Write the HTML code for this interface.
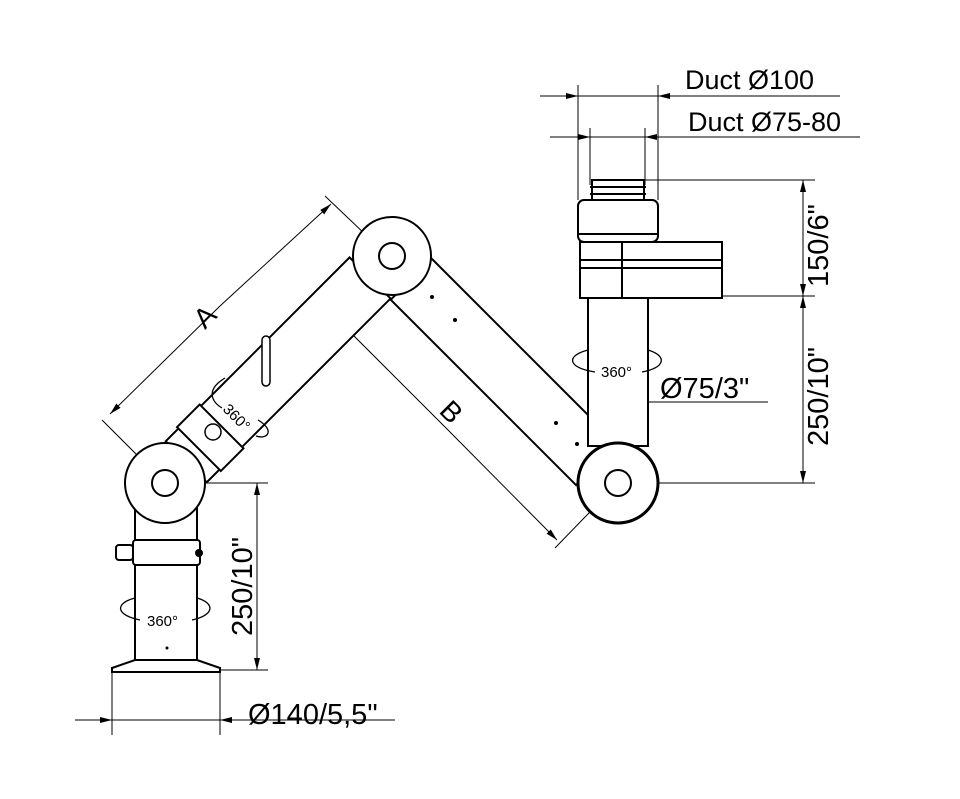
<!DOCTYPE html>
<html><head><meta charset="utf-8"><style>
html,body{margin:0;padding:0;background:#fff}
svg{display:block}
text{font-family:"Liberation Sans",Arial,sans-serif;fill:#000}
</style></head><body>
<svg width="960" height="799" viewBox="0 0 960 799" xmlns="http://www.w3.org/2000/svg">
<defs>
<marker id="ar" viewBox="0 0 12 6" refX="12" refY="3" markerWidth="12" markerHeight="6" orient="auto-start-reverse" markerUnits="userSpaceOnUse"><path d="M0,0 L12,3 L0,6z" fill="#000"/></marker>
</defs>
<g stroke="#000" fill="none" stroke-width="1">
<line x1="540" y1="96" x2="840" y2="96"/>
<line x1="550" y1="137" x2="860" y2="137"/>
<line x1="578" y1="85" x2="578" y2="200"/>
<line x1="658" y1="85" x2="658" y2="200"/>
<line x1="590" y1="128" x2="590" y2="185"/>
<line x1="645" y1="128" x2="645" y2="185"/>
<path d="M548,96 L578,96" marker-end="url(#ar)"/>
<path d="M690,96 L658,96" marker-end="url(#ar)"/>
<path d="M560,137 L590,137" marker-end="url(#ar)"/>
<path d="M675,137 L645,137" marker-end="url(#ar)"/>
<line x1="645" y1="180" x2="815" y2="180"/>
<line x1="722" y1="296" x2="815" y2="296"/>
<line x1="618" y1="483" x2="815" y2="483"/>
<path d="M803,238 L803,180" marker-end="url(#ar)"/>
<path d="M803,238 L803,296" marker-end="url(#ar)"/>
<path d="M803,390 L803,296" marker-end="url(#ar)"/>
<path d="M803,390 L803,483" marker-end="url(#ar)"/>
<line x1="588" y1="402" x2="768" y2="402"/>
<path d="M620,402 L588,402" marker-end="url(#ar)"/>
<path d="M618,402 L648,402" marker-end="url(#ar)"/>
<line x1="165" y1="483" x2="268" y2="483"/>
<line x1="197" y1="670" x2="268" y2="670"/>
<path d="M257,575 L257,483" marker-end="url(#ar)"/>
<path d="M257,575 L257,670" marker-end="url(#ar)"/>
<line x1="75" y1="720" x2="395" y2="720"/>
<line x1="112" y1="672" x2="112" y2="735"/>
<line x1="220" y1="672" x2="220" y2="735"/>
<path d="M80,720 L112,720" marker-end="url(#ar)"/>
<path d="M250,720 L220,720" marker-end="url(#ar)"/>
<line x1="102" y1="420" x2="165" y2="483"/>
<line x1="325" y1="196" x2="390" y2="258"/>
<path d="M220,306 L110,414" marker-end="url(#ar)"/>
<path d="M220,306 L331,204" marker-end="url(#ar)"/>
<line x1="327" y1="322" x2="390" y2="258"/>
<line x1="555" y1="548" x2="618" y2="483"/>
<path d="M450,432 L341,323" marker-end="url(#ar)"/>
<path d="M450,432 L557,540" marker-end="url(#ar)"/>
</g>

<g stroke="#000" stroke-width="2" fill="#fff">
<path d="M112,672 L112,668 L135,660 L197,660 L220,668 L220,672 Z"/>
<rect x="135" y="505" width="62" height="155"/>
<rect x="133" y="540" width="67" height="25" rx="3"/>
<rect x="116" y="545" width="17" height="15" rx="3"/>
<circle cx="199" cy="553" r="3" fill="#000"/>
<g transform="translate(390,258) rotate(45)">
<rect x="30" y="-29" width="262" height="58"/>
</g>
<g transform="translate(165,483) rotate(-45)">
<rect x="30" y="-29" width="260" height="58"/>
<rect x="48" y="-31" width="32" height="62"/>
</g>
<circle cx="213" cy="432" r="8" stroke-width="1.5"/>
<rect x="262" y="336" width="8" height="50" rx="4" stroke-width="1.5"/>
<circle cx="165" cy="483" r="40"/>
<circle cx="165" cy="483" r="13"/>
<circle cx="392" cy="256" r="39"/>
<circle cx="392" cy="256" r="13"/>
<rect x="588" y="296" width="60" height="150"/>
<circle cx="618" cy="483" r="40" stroke-width="3"/>
<circle cx="618" cy="483" r="13"/>
<rect x="592" y="180" width="52" height="20"/>
<line x1="590" y1="187" x2="646" y2="187"/>
<line x1="590" y1="194" x2="646" y2="194"/>
<rect x="578" y="200" width="80" height="42" rx="6"/>
<line x1="578" y1="234" x2="658" y2="234"/>
<rect x="580" y="242" width="142" height="56"/>
<line x1="580" y1="260" x2="722" y2="260"/>
<line x1="580" y1="268" x2="722" y2="268"/>
<line x1="622" y1="242" x2="622" y2="298"/>
</g>
<g fill="#000">
<circle cx="432" cy="297" r="2"/><circle cx="455" cy="320" r="2"/>
<circle cx="556" cy="423" r="2"/><circle cx="577" cy="444" r="2"/>
<circle cx="167" cy="648" r="1.5"/>
</g>
<g stroke="#000" fill="none" stroke-width="1.3">
<path d="M135,598 C115,603 115,615 140,620"/><path d="M197,598 C215,603 215,615 192,620"/>
<path d="M588,350 C565,356 568,368 595,372"/><path d="M648,350 C668,356 665,368 642,372"/>
<path d="M225,378 C205,390 212,402 222,408"/><path d="M258,420 C275,430 268,440 256,436"/>
</g>
<g font-size="27">
<text x="685" y="89">Duct Ø100</text>
<text x="688" y="131">Duct Ø75-80</text>
</g>
<g font-size="29">
<text x="660" y="398">Ø75/3"</text>
<text x="248" y="724">Ø140/5,5"</text>
</g>
<text x="601" y="377" font-size="15">360°</text>
<text x="147" y="626" font-size="15">360°</text>
<text transform="translate(222,410) rotate(45)" font-size="15">360°</text>
<text transform="translate(828,287) rotate(-90)" font-size="29">150/6"</text>
<text transform="translate(828,446) rotate(-90)" font-size="29">250/10"</text>
<text transform="translate(252,636) rotate(-90)" font-size="29">250/10"</text>
<text transform="translate(205,330) rotate(-45)" font-size="28">A</text>
<text transform="translate(438,412) rotate(45)" font-size="28">B</text>
</svg>
</body></html>
